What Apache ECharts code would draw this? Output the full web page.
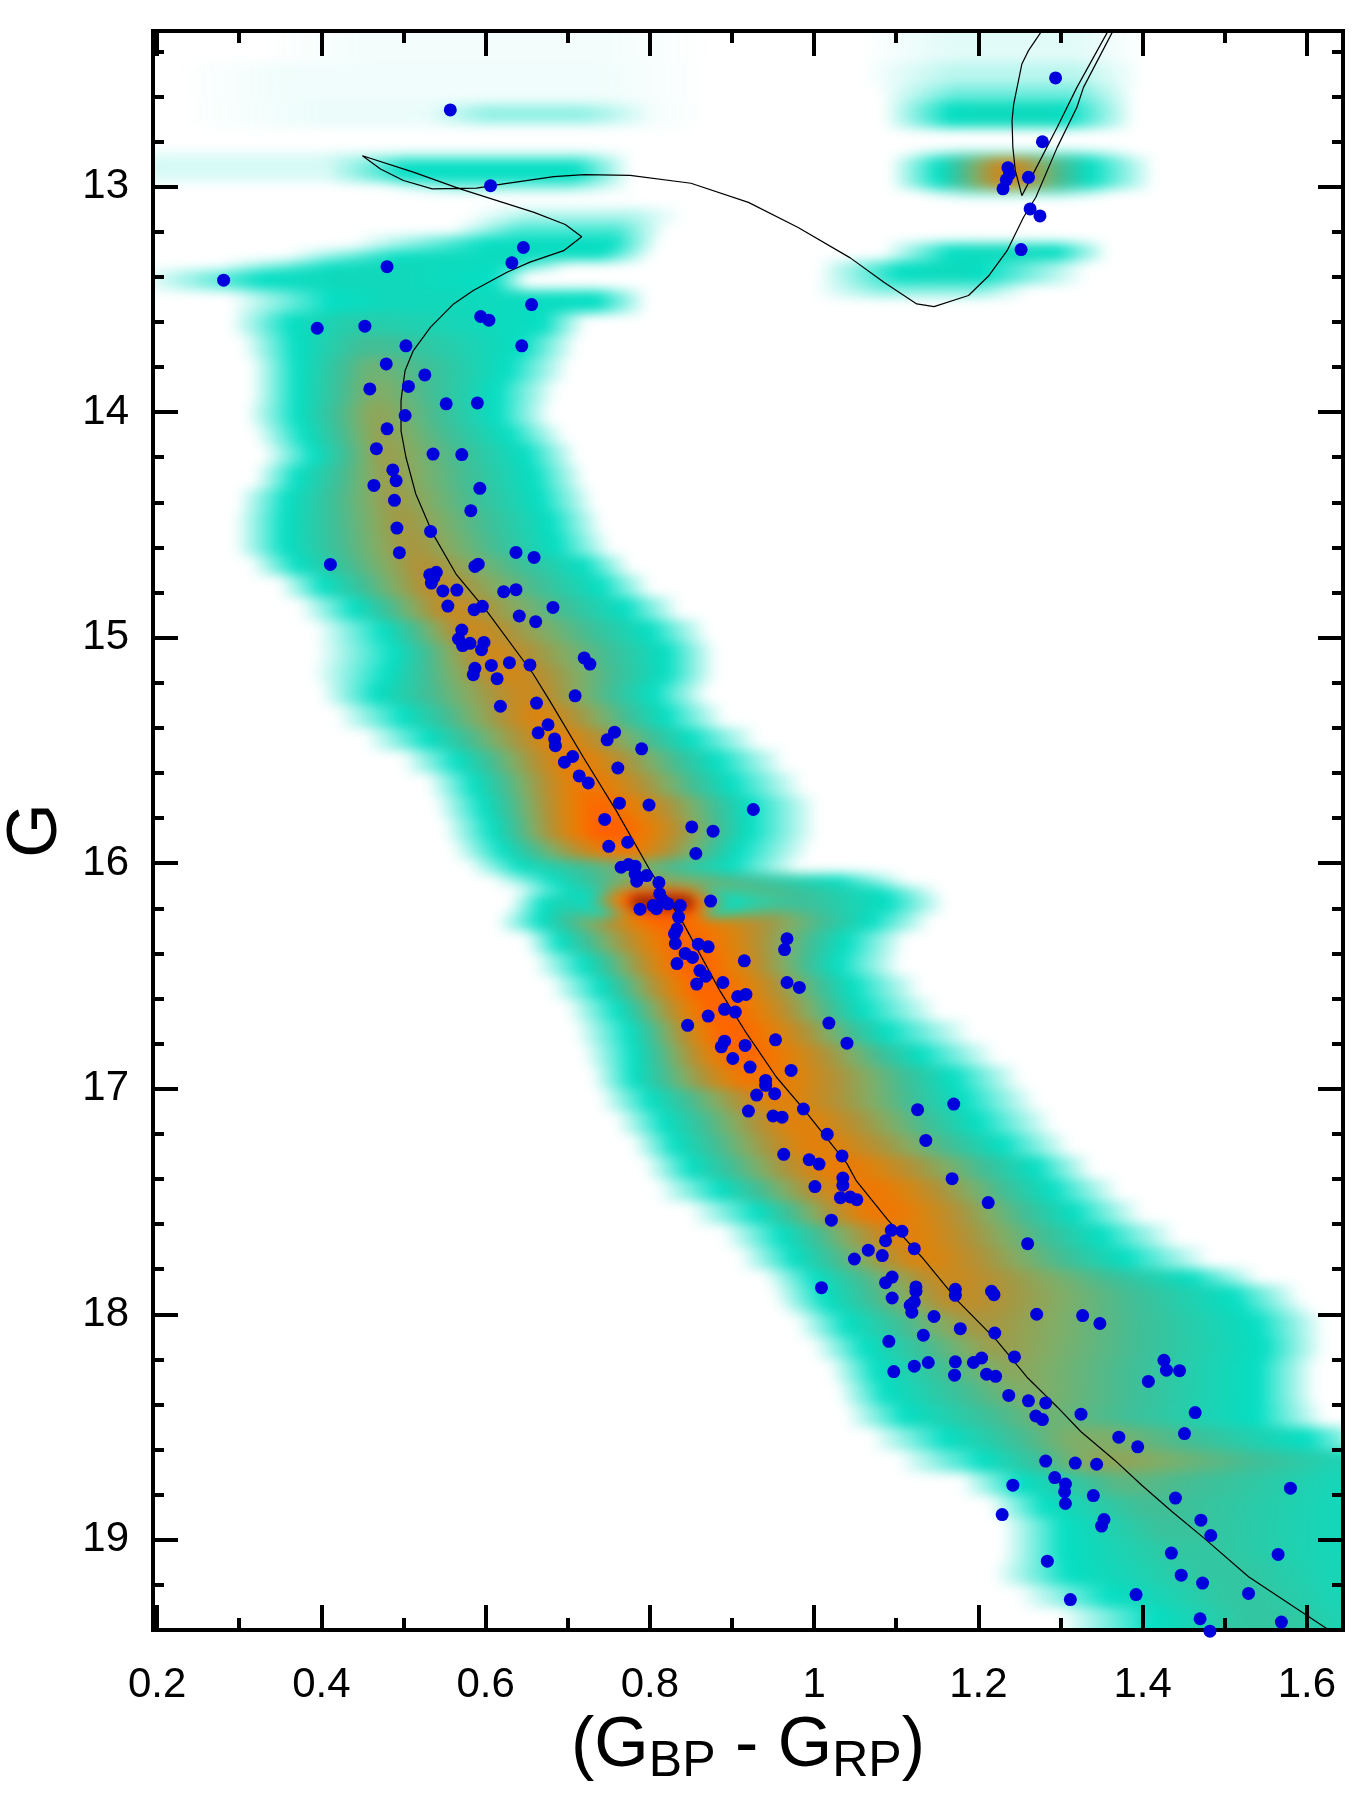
<!DOCTYPE html>
<html>
<head>
<meta charset="utf-8">
<title>CMD</title>
<script src="https://cdn.jsdelivr.net/npm/echarts@6/dist/echarts.min.js"></script>
<style>
  html, body { margin: 0; padding: 0; background: #fff; }
  #main, #density { position: absolute; left: 0; top: 0; width: 1359px; height: 1803px; }
  #densityClip { position: absolute; left: 153px; top: 31px; width: 1190px; height: 1599px; overflow: hidden; }
  #density { left: -153px; top: -31px; filter: blur(6px); }
</style>
</head>
<body>
<div id="densityClip"><div id="density"></div></div>
<div id="main"></div>
<script>
const xMajor = [0.2, 0.4, 0.6, 0.8, 1, 1.2, 1.4, 1.6]
const xMinor = [0.3, 0.5, 0.7, 0.9, 1.1, 1.3, 1.5]
const gMajor = [13, 14, 15, 16, 17, 18, 19]
const gMinor = [12.4, 12.6, 12.8, 13.2, 13.4, 13.6, 13.8, 14.2, 14.4, 14.6, 14.8, 15.2, 15.4, 15.6, 15.8,
  16.2, 16.4, 16.6, 16.8, 17.2, 17.4, 17.6, 17.8, 18.2, 18.4, 18.6, 18.8, 19.2]

// density rows: G top, G bottom, fade start, teal start, core start, core end, teal end, fade end, peak
const sequenceRows = [
  [13.56, 13.66, .31, .362, .43, .47, .67, .70, .33],
  [13.66, 13.76, .325, .368, .45, .48, .645, .69, .4],
  [13.76, 13.86, .335, .37, .455, .48, .628, .68, .47],
  [13.86, 13.96, .335, .37, .46, .48, .615, .665, .5],
  [13.96, 14.06, .33, .37, .46, .48, .615, .658, .53],
  [14.06, 14.14, .34, .378, .465, .485, .63, .675, .54],
  [14.14, 14.24, .35, .39, .47, .49, .65, .69, .55],
  [14.24, 14.34, .34, .37, .475, .495, .66, .70, .55],
  [14.34, 14.44, .32, .358, .48, .50, .667, .711, .56],
  [14.44, 14.54, .315, .355, .49, .51, .68, .72, .57],
  [14.54, 14.64, .315, .355, .50, .52, .687, .731, .58],
  [14.64, 14.72, .335, .37, .515, .535, .72, .755, .6],
  [14.72, 14.82, .37, .402, .53, .55, .74, .78, .63],
  [14.82, 14.92, .395, .44, .55, .57, .77, .815, .65],
  [14.92, 15.02, .414, .475, .575, .595, .80, .849, .66],
  [15.02, 15.12, .414, .488, .60, .62, .82, .86, .67],
  [15.12, 15.2, .41, .48, .62, .64, .82, .86, .68],
  [15.2, 15.3, .42, .467, .64, .66, .805, .85, .66],
  [15.3, 15.4, .44, .50, .655, .675, .82, .87, .7],
  [15.4, 15.5, .475, .53, .68, .70, .85, .91, .72],
  [15.5, 15.6, .52, .565, .70, .72, .882, .943, .75],
  [15.6, 15.7, .55, .585, .715, .735, .90, .965, .78],
  [15.7, 15.8, .56, .597, .73, .75, .922, .983, .85],
  [15.8, 15.9, .57, .607, .735, .765, .922, .983, .88],
  [15.9, 15.98, .58, .62, .75, .78, .91, .975, .78],
  [15.98, 16.05, .60, .64, .775, .785, .90, .96, .5],
  [16.05, 16.1, .63, .68, .79, .80, 1.03, 1.09, .55],
  [16.1, 16.14, .66, .70, .78, .82, 1.08, 1.13, .62],
  [16.14, 16.22, .65, .67, .79, .82, 1.09, 1.14, .62],
  [16.22, 16.3, .635, .667, .81, .84, 1.07, 1.12, .85],
  [16.3, 16.4, .67, .69, .83, .86, 1.04, 1.09, .85],
  [16.4, 16.5, .68, .72, .84, .87, 1.03, 1.085, .86],
  [16.5, 16.6, .70, .74, .855, .885, 1.048, 1.109, .86],
  [16.6, 16.7, .72, .76, .87, .90, 1.06, 1.13, .86],
  [16.7, 16.8, .73, .775, .885, .915, 1.089, 1.17, .86],
  [16.8, 16.9, .74, .78, .90, .93, 1.13, 1.2, .85],
  [16.9, 17, .75, .78, .915, .945, 1.17, 1.23, .8],
  [17, 17.1, .76, .80, .945, .975, 1.182, 1.25, .72],
  [17.1, 17.2, .78, .817, .97, 1.0, 1.2, 1.27, .72],
  [17.2, 17.3, .80, .83, .99, 1.02, 1.23, 1.29, .73],
  [17.3, 17.4, .815, .85, 1.02, 1.05, 1.27, 1.317, .76],
  [17.4, 17.5, .83, .885, 1.05, 1.08, 1.29, 1.35, .78],
  [17.5, 17.6, .87, .93, 1.07, 1.10, 1.317, 1.378, .78],
  [17.6, 17.7, .91, .96, 1.10, 1.13, 1.35, 1.42, .72],
  [17.7, 17.8, .93, .975, 1.12, 1.15, 1.38, 1.46, .7],
  [17.8, 17.87, .96, 1.00, 1.15, 1.18, 1.46, 1.52, .66],
  [17.87, 17.95, .97, 1.01, 1.16, 1.19, 1.51, 1.57, .64],
  [17.95, 18, .98, 1.02, 1.17, 1.20, 1.52, 1.585, .62],
  [18, 18.1, 1.0, 1.04, 1.19, 1.22, 1.54, 1.6, .58],
  [18.1, 18.2, 1.02, 1.061, 1.21, 1.24, 1.548, 1.6, .55],
  [18.2, 18.3, 1.04, 1.075, 1.23, 1.26, 1.54, 1.59, .52],
  [18.3, 18.4, 1.05, 1.086, 1.25, 1.28, 1.54, 1.59, .5],
  [18.4, 18.5, 1.06, 1.11, 1.27, 1.30, 1.54, 1.6, .47],
  [18.5, 18.6, 1.09, 1.16, 1.31, 1.36, 1.6, 1.66, .5],
  [18.6, 18.7, 1.123, 1.205, 1.34, 1.39, 1.7, 1.75, .53],
  [18.7, 18.8, 1.2, 1.25, 1.37, 1.40, 1.7, 1.75, .44],
  [18.8, 18.9, 1.234, 1.28, 1.4, 1.43, 1.7, 1.75, .4],
  [18.9, 19, 1.25, 1.304, 1.42, 1.46, 1.7, 1.75, .38],
  [19, 19.1, 1.25, 1.304, 1.44, 1.5, 1.7, 1.75, .36],
  [19.1, 19.2, 1.24, 1.31, 1.47, 1.53, 1.7, 1.75, .36],
  [19.2, 19.3, 1.27, 1.358, 1.5, 1.55, 1.7, 1.75, .36],
  [19.3, 19.6, 1.32, 1.41, 1.52, 1.58, 1.7, 1.75, .36]
]
// the short dense bar at the turn-on of the binary sequence
const hotRows = [
  [16.12, 16.15, .71, .73, .78, .84, .88, .94, .9],
  [16.15, 16.2, .70, .72, .78, .85, .90, .97, .98],
  [16.2, 16.24, .72, .74, .79, .85, .88, .93, .9]
]
// turn-off region on the left
const turnoffRows = [
  [12.2, 12.45, .35, .45, .55, .65, .75, .85, .012],
  [12.45, 12.62, .25, .35, .5, .6, .75, .85, .015],
  [12.62, 12.74, .25, .4, .5, .6, .75, .85, .02],
  [12.64, 12.72, .55, .6, .64, .7, .72, .78, .1],
  [12.85, 12.98, .15, .2, .3, .36, .42, .47, .04],
  [12.85, 12.88, .42, .5, .58, .66, .72, .76, .1],
  [12.88, 12.98, .43, .5, .553, .675, .71, .755, .25],
  [12.98, 13.02, .5, .56, .6, .68, .7, .76, .12],
  [13.1, 13.16, .6, .65, .7, .76, .78, .82, .08],
  [13.16, 13.22, .58, .64, .68, .74, .76, .8, .18],
  [13.22, 13.28, .46, .6, .65, .72, .755, .79, .26],
  [13.28, 13.33, .38, .49, .55, .62, .74, .78, .27],
  [13.33, 13.37, .3, .41, .46, .52, .633, .68, .28],
  [13.37, 13.46, .2, .33, .42, .5, .61, .63, .28],
  [13.46, 13.56, .31, .41, .48, .55, .735, .776, .28]
]
// red clump region on the right
const clumpRows = [
  [12.2, 12.45, 1.08, 1.17, 1.2, 1.28, 1.32, 1.38, .03],
  [12.45, 12.55, 1.08, 1.17, 1.2, 1.28, 1.32, 1.38, .07],
  [12.55, 12.62, 1.1, 1.17, 1.2, 1.28, 1.32, 1.37, .14],
  [12.62, 12.74, 1.105, 1.166, 1.2, 1.28, 1.308, 1.369, .27],
  [12.84, 12.87, 1.13, 1.18, 1.21, 1.27, 1.32, 1.37, .15],
  [12.87, 13.01, 1.113, 1.152, 1.225, 1.245, 1.337, 1.393, .66],
  [13.01, 13.04, 1.15, 1.19, 1.22, 1.27, 1.3, 1.34, .14],
  [13.25, 13.33, 1.105, 1.166, 1.2, 1.26, 1.296, 1.337, .27],
  [13.33, 13.43, 1.025, 1.105, 1.15, 1.18, 1.206, 1.31, .27],
  [13.43, 13.49, 1.02, 1.08, 1.12, 1.16, 1.2, 1.24, .12]
]

// isochrone, from the faint end up the giant branch and back through the clump
const isoColor = [1.627, 1.624, 1.529, 1.473, 1.436, 1.399, 1.366, 1.325, 1.296, 1.259, 1.222, 1.176, 1.131, 1.09, 1.051,
  1.04, .987, .954, .918, .885, .841, .8, .759, .719, .678, .658, .601, .564, .536, .515, .503, .497, .497, .498, .502, .512,
  .533, .561, .585, .626, .654, .695, .717, .697, .659, .614, .569, .512, .45, .472, .5, .535, .589, .622, .683, .72, .776,
  .85, .92, .98, 1.044, 1.085, 1.125, 1.146, 1.188, 1.213, 1.235, 1.255, 1.27, 1.296, 1.32, 1.328, 1.363]
const isoG = [19.41, 19.393, 19.164, 18.987, 18.876, 18.758, 18.647, 18.521, 18.411, 18.278, 18.115, 17.945, 17.746, 17.583, 17.406,
  17.332, 17.089, 16.948, 16.756, 16.564, 16.269, 16.03, 15.767, 15.53, 15.279, 15.161, 14.88, 14.718, 14.541, 14.363, 14.2, 14.083, 13.95, 13.919, 13.815, 13.727,
  13.623, 13.52, 13.461, 13.38, 13.335, 13.284, 13.222, 13.168, 13.114, 13.062, 13.01, 12.936, 12.863, 12.922, 12.973, 13.01, 13.007, 12.988, 12.956, 12.947, 12.95,
  12.985, 13.07, 13.18, 13.316, 13.424, 13.52, 13.532, 13.483, 13.394, 13.284, 13.136, 13.047, 12.826, 12.648, 12.56, 12.316]
const isoBranchColor = [1.357, 1.32, 1.296, 1.253, 1.245, 1.242, 1.241, 1.243, 1.253, 1.261, 1.276]
const isoBranchG = [12.316, 12.56, 12.737, 13.04, 12.929, 12.826, 12.708, 12.634, 12.456, 12.397, 12.316]

// cluster members, [BP-RP, G]
const stars = [
  [.557, 12.66], [.606, 12.996], [.646, 13.27], [.632, 13.338], [.48, 13.355], [.281, 13.415], [.656, 13.523], [.594, 13.576],
  [.604, 13.592], [.395, 13.628], [.453, 13.619], [.644, 13.706], [.503, 13.706], [.479, 13.786], [.526, 13.835], [.459, 13.897],
  [.506, 13.886], [.552, 13.963], [.59, 13.959], [.502, 14.015], [.48, 14.074], [.467, 14.162], [.536, 14.186], [.571, 14.188],
  [.487, 14.256], [.491, 14.304], [.464, 14.325], [.593, 14.338], [.489, 14.391], [.582, 14.437], [.492, 14.514], [.533, 14.529],
  [.495, 14.623], [.637, 14.622], [.659, 14.644], [.411, 14.675], [.591, 14.674], [.587, 14.684], [.54, 14.71], [.532, 14.721],
  [.537, 14.733], [.534, 14.758], [.548, 14.793], [.565, 14.789], [.622, 14.796], [.637, 14.787], [.554, 14.86], [.682, 14.866],
  [.596, 14.861], [.586, 14.876], [.641, 14.904], [.661, 14.929], [.571, 14.966], [.567, 15.006], [.581, 15.025], [.572, 15.035],
  [.598, 15.021], [.595, 15.053], [.607, 15.123], [.629, 15.111], [.654, 15.121], [.72, 15.09], [.727, 15.117], [.587, 15.136],
  [.585, 15.164], [.614, 15.182], [.709, 15.258], [.662, 15.29], [.618, 15.304], [.676, 15.386], [.664, 15.422], [.684, 15.449],
  [.685, 15.479], [.757, 15.419], [.748, 15.453], [.79, 15.493], [.696, 15.552], [.706, 15.527], [.714, 15.613], [.725, 15.644],
  [.761, 15.578], [.763, 15.734], [.799, 15.742], [.745, 15.806], [.926, 15.762], [.851, 15.839], [.877, 15.858], [.773, 15.907],
  [.75, 15.925], [.856, 15.957], [.765, 16.018], [.774, 16.006], [.782, 16.013], [.782, 16.047], [.796, 16.055], [.784, 16.08],
  [.811, 16.086], [.812, 16.136], [.816, 16.165], [.804, 16.188], [.788, 16.204], [.808, 16.202], [.822, 16.18], [.837, 16.188],
  [.874, 16.168], [.835, 16.239], [.833, 16.291], [.83, 16.313], [.831, 16.356], [.859, 16.359], [.871, 16.371], [.967, 16.335],
  [.964, 16.383], [.843, 16.4], [.852, 16.418], [.833, 16.445], [.915, 16.433], [.861, 16.476], [.868, 16.501], [.857, 16.536],
  [.889, 16.529], [.967, 16.529], [.982, 16.551], [.907, 16.591], [.917, 16.582], [.891, 16.648], [.904, 16.66], [.871, 16.678],
  [.846, 16.719], [1.018, 16.709], [1.04, 16.798], [.953, 16.783], [.891, 16.789], [.887, 16.814], [.916, 16.808], [.901, 16.866],
  [.922, 16.904], [.972, 16.919], [.941, 16.963], [.941, 16.985], [.93, 17.028], [.952, 17.022], [.987, 17.09], [.92, 17.099],
  [.95, 17.121], [.961, 17.126], [1.126, 17.093], [1.17, 17.068], [1.136, 17.229], [1.016, 17.202], [.963, 17.291], [1.034, 17.298],
  [.994, 17.315], [1.006, 17.334], [1.168, 17.399], [1.035, 17.396], [1.035, 17.428], [1.001, 17.434], [1.032, 17.483], [1.044, 17.48],
  [1.052, 17.492], [1.212, 17.505], [1.021, 17.583], [1.094, 17.628], [1.107, 17.632], [1.087, 17.674], [1.122, 17.709], [1.066, 17.716],
  [1.083, 17.74], [1.049, 17.755], [1.26, 17.687], [1.087, 17.86], [1.095, 17.835], [1.009, 17.882], [1.124, 17.879], [1.124, 17.898],
  [1.172, 17.889], [1.172, 17.916], [1.216, 17.898], [1.219, 17.913], [1.095, 17.928], [1.122, 17.945], [1.117, 17.96], [1.119, 17.991],
  [1.271, 18.0], [1.327, 18.006], [1.348, 18.041], [1.146, 18.01], [1.178, 18.064], [1.133, 18.093], [1.22, 18.083], [1.091, 18.12],
  [1.244, 18.189], [1.204, 18.194], [1.194, 18.214], [1.426, 18.204], [1.172, 18.211], [1.139, 18.214], [1.122, 18.23], [1.429, 18.248],
  [1.445, 18.25], [1.097, 18.254], [1.171, 18.27], [1.21, 18.266], [1.221, 18.275], [1.407, 18.298], [1.237, 18.36], [1.261, 18.384],
  [1.282, 18.393], [1.27, 18.451], [1.278, 18.467], [1.325, 18.443], [1.464, 18.436], [1.451, 18.529], [1.371, 18.545], [1.394, 18.588],
  [1.282, 18.651], [1.318, 18.66], [1.344, 18.665], [1.293, 18.724], [1.306, 18.753], [1.242, 18.758], [1.305, 18.787], [1.58, 18.771],
  [1.34, 18.804], [1.44, 18.815], [1.306, 18.839], [1.229, 18.888], [1.353, 18.91], [1.471, 18.913], [1.35, 18.939], [1.483, 18.981],
  [1.435, 19.059], [1.565, 19.065], [1.284, 19.095], [1.447, 19.157], [1.473, 19.192], [1.529, 19.238], [1.392, 19.243], [1.312, 19.265],
  [1.47, 19.35], [1.569, 19.365], [1.482, 19.405],
  [1.294, 12.518], [1.278, 12.801], [1.236, 12.916], [1.238, 12.944], [1.234, 12.97], [1.23, 13.01], [1.261, 12.959], [1.263, 13.099],
  [1.275, 13.13], [1.252, 13.279]
]

const gridBox = {left: 153, right: 16, top: 31, bottom: 173, outerBoundsMode: 'none'}
const xRange = {min: 0.195, max: 1.644}
const gRange = {min: 12.31, max: 19.4}
const fadeExtra = .022

// level -> colour of the density scale
const scaleStops = [[.25, '#05dfc4'], [.4, '#42be96'], [.5, '#7fae68'], [.6, '#b09238'], [.7, '#d98510'],
  [.8, '#f57500'], [.88, '#ff6000'], [.94, '#ff3800'], [1, '#400500']]

function levelStops(from, to, pFrom, pTo) {
  // colour stops walking the scale between two levels
  const lo = Math.min(from, to), hi = Math.max(from, to)
  let list = [[lo, null]]
  scaleStops.forEach(s => { if (s[0] > lo && s[0] < hi) list.push([s[0], null]) })
  list.push([hi, null])
  if (from > to) list.reverse()
  return list.map(s => ({
    offset: pFrom + (pTo - pFrom) * (hi === lo ? 0 : (s[0] - from) / (to - from)),
    color: levelColor(s[0])
  }))
}

function levelColor(level) {
  if (level < .25) return 'rgba(5,223,196,' + (level / .25).toFixed(3) + ')'
  for (let i = 0; i < scaleStops.length - 1; i++) {
    const a = scaleStops[i], b = scaleStops[i + 1]
    if (level <= b[0]) return echarts.color.lerp((level - a[0]) / (b[0] - a[0]), [a[1], b[1]])
  }
  return '#400500'
}

function renderRow(params, api) {
  const xs = [2, 3, 4, 5, 6, 7].map(d => api.value(d))
  xs[0] -= fadeExtra
  xs[5] += fadeExtra
  const top = api.coord([xs[0], api.value(0)])
  const bottom = api.coord([xs[5], api.value(1)])
  const peak = api.value(8)
  const mid = Math.min(peak, .25)
  const span = xs[5] - xs[0]
  const p = xs.map(v => (v - xs[0]) / span)
  const stops = [].concat(
    levelStops(0, mid, p[0], p[1]),
    levelStops(mid, peak, p[1], p[2]),
    levelStops(peak, mid, p[3], p[4]),
    levelStops(mid, 0, p[4], p[5])
  )
  const y0 = Math.round(top[1])
  return {
    type: 'rect',
    shape: {x: top[0], y: y0, width: bottom[0] - top[0], height: Math.round(bottom[1]) - y0},
    style: {fill: new echarts.graphic.LinearGradient(0, 0, 1, 0, stops)}
  }
}

function rowSeries(rows) {
  return {
    type: 'custom',
    renderItem: renderRow,
    encode: {x: [2, 3, 4, 5, 6, 7], y: [0, 1]},
    data: rows,
    silent: true
  }
}

const densityChart = echarts.init(document.getElementById('density'))
densityChart.setOption({
  animation: false,
  grid: gridBox,
  xAxis: {type: 'value', show: false, ...xRange},
  yAxis: {type: 'value', show: false, inverse: true, ...gRange},
  series: [rowSeries(turnoffRows), rowSeries(clumpRows), rowSeries(sequenceRows), rowSeries(hotRows)]
})

const labelFont = {fontFamily: 'Liberation Sans', fontSize: 42, color: '#000'}
const tickLine = {color: '#000', width: 4}

function xAxisAt(position, values, length, withLabel) {
  return {
    type: 'value', position, ...xRange,
    splitLine: {show: false}, axisLine: {show: false},
    axisTick: {show: true, inside: true, length, lineStyle: tickLine, customValues: values},
    axisLabel: withLabel ? {
      ...labelFont, margin: 34, customValues: values, showMinLabel: true, showMaxLabel: true,
      formatter: v => String(v)
    } : {show: false}
  }
}

function yAxisAt(position, values, length, withLabel) {
  return {
    type: 'value', position, inverse: true, ...gRange,
    splitLine: {show: false}, axisLine: {show: false},
    axisTick: {show: true, inside: true, length, lineStyle: tickLine, customValues: values},
    axisLabel: withLabel ? {...labelFont, margin: 24, customValues: values, formatter: v => String(v)} : {show: false}
  }
}

const xMain = xAxisAt('bottom', xMajor, 25, true)
xMain.name = '{a|(G}{b|BP}{a| - G}{b|RP}{a|)}'
xMain.nameLocation = 'middle'
xMain.nameGap = 74
xMain.nameTextStyle = {
  rich: {
    a: {fontFamily: 'Liberation Sans', fontSize: 70, color: '#000', lineHeight: 80},
    b: {fontFamily: 'Liberation Sans', fontSize: 50, color: '#000', lineHeight: 80, verticalAlign: 'bottom', padding: [26, 0, 0, 0]}
  }
}
const yMain = yAxisAt('left', gMajor, 25, true)
yMain.name = 'G'
yMain.nameLocation = 'middle'
yMain.nameRotate = 90
yMain.nameGap = 81
yMain.nameTextStyle = {fontFamily: 'Liberation Sans', fontSize: 70, color: '#000'}

const myChart = echarts.init(document.getElementById('main'))
myChart.setOption({
  animation: false,
  grid: {...gridBox, show: true, borderColor: '#000', borderWidth: 4, backgroundColor: 'transparent'},
  xAxis: [xMain, xAxisAt('bottom', xMinor, 12, false), xAxisAt('top', xMajor, 25, false), xAxisAt('top', xMinor, 12, false)],
  yAxis: [yMain, yAxisAt('left', gMinor, 11, false), yAxisAt('right', gMajor, 25, false), yAxisAt('right', gMinor, 11, false)],
  series: [
    {
      name: 'isochrone', type: 'line', showSymbol: false, symbol: 'none', smooth: false,
      lineStyle: {color: '#000', width: 1.2}, z: 3,
      data: isoColor.map((v, i) => [v, isoG[i]])
    },
    {
      name: 'isochrone branch', type: 'line', showSymbol: false, symbol: 'none', smooth: false,
      lineStyle: {color: '#000', width: 1.2}, z: 3,
      data: isoBranchColor.map((v, i) => [v, isoBranchG[i]])
    },
    {
      name: 'members', type: 'scatter', symbol: 'circle', symbolSize: 13, clip: false, z: 4,
      itemStyle: {color: '#0000dc', opacity: 1},
      data: stars
    }
  ]
})
</script>
</body>
</html>
